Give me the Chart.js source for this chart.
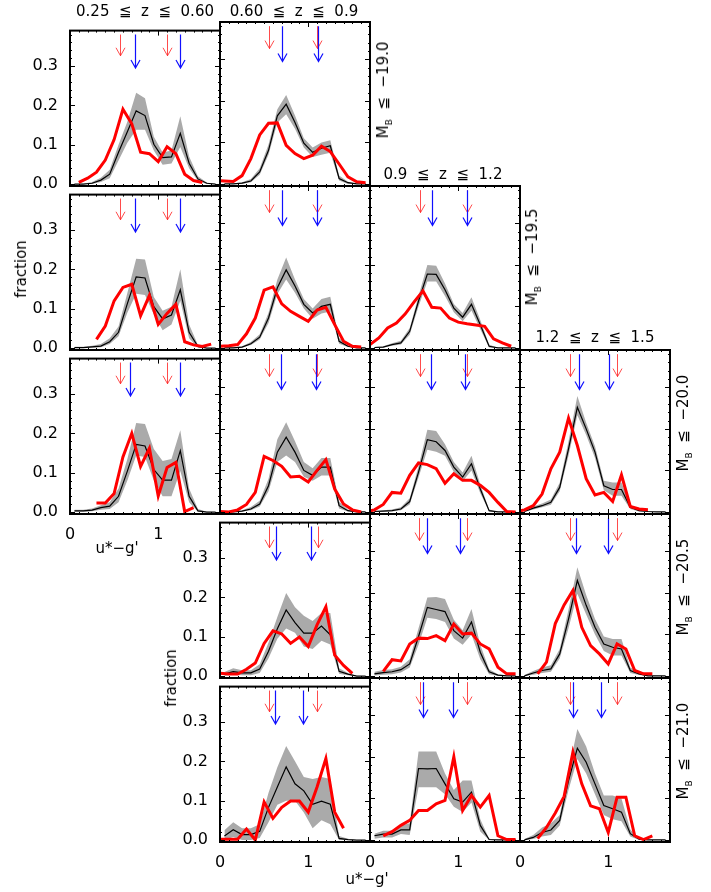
<!DOCTYPE html>
<html>
<head>
<meta charset="utf-8">
<script src="https://cdn.jsdelivr.net/npm/chart.js@4.4.0/dist/chart.umd.min.js"></script>
<style>
  body { margin: 0; background: #fff; width: 711px; height: 892px; position: relative; overflow: hidden; font-family: 'DejaVu Sans', sans-serif; }
  .pan { position: absolute; }
  .lab { position: absolute; white-space: pre; font-size: 15px; color: #000; transform: translate(-50%, -50%); }
  .rot { transform: translate(-50%, -50%) rotate(-90deg); }
  .lab sub { font-size: 9px; }
</style>
</head>
<body>
<script>
// x grids (u*-g')
const binEdge = [0, 0.1, 0.2, 0.3, 0.4, 0.5, 0.6, 0.7, 0.8, 0.9, 1.0, 1.1, 1.2, 1.3, 1.4, 1.5, 1.6];
const binMid = [0.05, 0.15, 0.25, 0.35, 0.45, 0.55, 0.65, 0.75, 0.85, 0.95, 1.05, 1.15, 1.25, 1.35, 1.45, 1.55, 1.65];
const binOff = [-0.05, 0.05, 0.15, 0.25, 0.35, 0.45, 0.55, 0.65, 0.75, 0.85, 0.95, 1.05, 1.15, 1.25, 1.35, 1.45, 1.55, 1.65];

const xTicks = [0, 1];
const yTicks = [0, 0.1, 0.2, 0.3];

// arrow heights (fraction)
const arrowTop = 0.38;
const redTip = 0.326;
const blueTip = 0.295;

// row 1 (M <= -19.0)
const red_r1c1 = [null, 0.004, 0.015, 0.03, 0.061, 0.113, 0.19, 0.153, 0.081, 0.077, 0.057, 0.095, 0.077, 0.025, 0.009, 0.004, null];
const black_r1c1 = [0, 0, 0.002, 0.01, 0.025, 0.081, 0.133, 0.186, 0.174, 0.101, 0.067, 0.069, 0.129, 0.053, 0.013, 0.002, 0];
const hi_r1c1 = [0, 0.001, 0.005, 0.016, 0.036, 0.1, 0.158, 0.232, 0.218, 0.12, 0.08, 0.085, 0.172, 0.07, 0.02, 0.004, 0];
const lo_r1c1 = [0, 0, 0, 0.005, 0.015, 0.06, 0.105, 0.138, 0.138, 0.085, 0.049, 0.052, 0.094, 0.04, 0.008, 0, 0];
const arr_r1c1 = [0.567, 0.737, 1.10, 1.25];

const red_r1c2 = [0.008, 0.007, 0.006, 0.02, 0.061, 0.118, 0.146, 0.147, 0.093, 0.073, 0.061, 0.069, 0.091, 0.078, 0.048, 0.017, 0.005, 0.003];
const black_r1c2 = [0, 0, 0.002, 0.007, 0.029, 0.081, 0.164, 0.192, 0.148, 0.098, 0.076, 0.086, 0.092, 0.013, 0.003, 0, 0];
const hi_r1c2 = [0, 0, 0.004, 0.012, 0.038, 0.095, 0.18, 0.214, 0.165, 0.11, 0.088, 0.1, 0.105, 0.02, 0.005, 0, 0];
const lo_r1c2 = [0, 0, 0, 0.004, 0.022, 0.07, 0.148, 0.168, 0.133, 0.088, 0.065, 0.07, 0.075, 0.008, 0, 0, 0];
const arr_r1c2 = [0.559, 0.706, 1.096, 1.115];

// row 2 (M <= -19.5)
const red_r2c1 = [null, null, null, 0.022, 0.056, 0.12, 0.154, 0.162, 0.082, 0.134, 0.06, 0.088, 0.111, 0.016, 0.008, 0.004, 0.01];
const black_r2c1 = [0.001, 0.001, 0.003, 0.005, 0.016, 0.04, 0.113, 0.181, 0.178, 0.105, 0.074, 0.084, 0.148, 0.04, 0.004, 0, 0];
const hi_r2c1 = [0.003, 0.003, 0.006, 0.01, 0.025, 0.055, 0.14, 0.227, 0.225, 0.13, 0.095, 0.105, 0.2, 0.06, 0.008, 0, 0];
const lo_r2c1 = [0, 0, 0.001, 0.002, 0.01, 0.03, 0.09, 0.138, 0.135, 0.085, 0.045, 0.06, 0.12, 0.025, 0.001, 0, 0];
const arr_r2c1 = [0.567, 0.737, 1.10, 1.25];

const red_r2c2 = [0.004, 0.005, 0.008, 0.034, 0.072, 0.139, 0.147, 0.106, 0.088, 0.076, 0.064, 0.091, 0.098, 0.056, 0.016, 0.004, 0.002];
const black_r2c2 = [0, 0, 0.002, 0.01, 0.026, 0.072, 0.145, 0.188, 0.149, 0.105, 0.084, 0.1, 0.105, 0.016, 0.004, 0, 0];
const hi_r2c2 = [0, 0.001, 0.004, 0.014, 0.033, 0.085, 0.165, 0.218, 0.165, 0.118, 0.095, 0.118, 0.123, 0.024, 0.006, 0, 0];
const lo_r2c2 = [0, 0, 0.001, 0.007, 0.02, 0.06, 0.13, 0.165, 0.133, 0.095, 0.07, 0.083, 0.088, 0.01, 0.002, 0, 0];
const arr_r2c2 = [0.559, 0.699, 1.096, 1.103];

const red_r2c3 = [0.008, 0.024, 0.048, 0.06, 0.082, 0.111, 0.137, 0.098, 0.096, 0.072, 0.062, 0.058, 0.055, 0.052, 0.022, 0.012, 0.004];
const black_r2c3 = [0.001, 0.002, 0.008, 0.012, 0.04, 0.113, 0.178, 0.177, 0.14, 0.096, 0.074, 0.105, 0.056, 0.004, 0, 0, 0];
const hi_r2c3 = [0.002, 0.004, 0.011, 0.017, 0.048, 0.125, 0.2, 0.198, 0.155, 0.106, 0.084, 0.122, 0.067, 0.008, 0, 0, 0];
const lo_r2c3 = [0, 0.001, 0.005, 0.008, 0.032, 0.1, 0.16, 0.16, 0.125, 0.086, 0.064, 0.09, 0.045, 0.001, 0, 0, 0];
const arr_r2c3 = [0.561, 0.705, 1.102, 1.094];

// row 3 (M <= -20.0)
const red_r3c1 = [null, null, null, 0.023, 0.023, 0.047, 0.14, 0.2, 0.116, 0.162, 0.041, 0.113, 0.126, 0.001, 0.011, null, null];
const black_r3c1 = [0.003, 0.003, 0.005, 0.011, 0.015, 0.04, 0.104, 0.172, 0.168, 0.108, 0.081, 0.081, 0.156, 0.04, 0.003, 0, 0];
const hi_r3c1 = [0.006, 0.006, 0.009, 0.017, 0.025, 0.06, 0.135, 0.226, 0.224, 0.16, 0.13, 0.135, 0.208, 0.06, 0.008, 0.001, 0];
const lo_r3c1 = [0.001, 0.001, 0.002, 0.006, 0.008, 0.025, 0.08, 0.144, 0.14, 0.08, 0.04, 0.04, 0.104, 0.025, 0.001, 0, 0];
const arr_r3c1 = [0.567, 0.68, 1.10, 1.25];

const red_r3c2 = [0.001, 0, 0.005, 0.018, 0.047, 0.134, 0.124, 0.11, 0.084, 0.086, 0.072, 0.1, 0.126, 0.055, 0.019, 0.005, 0];
const black_r3c2 = [0, 0, 0.002, 0.007, 0.019, 0.063, 0.144, 0.18, 0.144, 0.1, 0.088, 0.108, 0.108, 0.015, 0.003, 0, 0];
const hi_r3c2 = [0.001, 0.001, 0.004, 0.012, 0.027, 0.08, 0.175, 0.216, 0.17, 0.12, 0.105, 0.13, 0.13, 0.025, 0.006, 0, 0];
const lo_r3c2 = [0, 0, 0.001, 0.004, 0.013, 0.05, 0.12, 0.136, 0.12, 0.085, 0.075, 0.088, 0.088, 0.008, 0.001, 0, 0];
const arr_r3c2 = [0.559, 0.69, 1.096, 1.088];

const red_r3c3 = [0, 0.005, 0.018, 0.047, 0.045, 0.088, 0.118, 0.114, 0.104, 0.069, 0.092, 0.076, 0.076, 0.064, 0.047, 0.023, 0.001, 0];
const black_r3c3 = [0.001, 0.002, 0.003, 0.007, 0.025, 0.096, 0.174, 0.169, 0.148, 0.108, 0.084, 0.116, 0.055, 0.003, 0, 0, 0];
const hi_r3c3 = [0.002, 0.004, 0.006, 0.011, 0.033, 0.11, 0.198, 0.195, 0.163, 0.12, 0.095, 0.135, 0.066, 0.006, 0, 0, 0];
const lo_r3c3 = [0, 0.001, 0.001, 0.004, 0.018, 0.083, 0.15, 0.145, 0.135, 0.096, 0.074, 0.1, 0.045, 0.001, 0, 0, 0];
const arr_r3c3 = [0.561, 0.686, 1.102, 1.071];

const red_r3c4 = [0, 0.005, 0.015, 0.043, 0.104, 0.144, 0.226, 0.16, 0.08, 0.041, 0.047, 0.025, 0.089, 0.013, 0.007, 0.005, null, null];
const black_r3c4 = [0.001, 0.009, 0.015, 0.023, 0.059, 0.152, 0.252, 0.2, 0.144, 0.063, 0.054, 0.054, 0.011, 0.003, 0.001, 0, 0];
const hi_r3c4 = [0.002, 0.013, 0.02, 0.03, 0.07, 0.17, 0.279, 0.215, 0.158, 0.075, 0.071, 0.071, 0.016, 0.005, 0.002, 0, 0];
const lo_r3c4 = [0, 0.006, 0.011, 0.017, 0.05, 0.135, 0.233, 0.185, 0.13, 0.052, 0.039, 0.039, 0.007, 0.001, 0, 0, 0];
const arr_r3c4 = [0.561, 0.667, 1.102, 1.007];

// row 4 (M <= -20.5)
const red_r4c2 = [0.007, 0.005, 0.005, 0.017, 0.033, 0.083, 0.115, 0.107, 0.083, 0.099, 0.075, 0.13, 0.176, 0.053, 0.027, 0.007, null];
const black_r4c2 = [0.005, 0.011, 0.008, 0.008, 0.018, 0.063, 0.12, 0.168, 0.136, 0.109, 0.109, 0.127, 0.105, 0.012, 0.005, 0, 0];
const hi_r4c2 = [0.01, 0.02, 0.015, 0.015, 0.03, 0.085, 0.15, 0.211, 0.175, 0.153, 0.14, 0.16, 0.16, 0.02, 0.008, 0, 0];
const lo_r4c2 = [0, 0.004, 0.002, 0.002, 0.008, 0.045, 0.095, 0.121, 0.11, 0.075, 0.069, 0.09, 0.08, 0.006, 0.002, 0, 0];
const arr_r4c2 = [0.555, 0.635, 1.107, 1.032];

const red_r4c3 = [null, null, 0.011, 0.039, 0.036, 0.077, 0.091, 0.09, 0.097, 0.085, 0.125, 0.101, 0.103, 0.077, 0.065, 0.021, 0.005, 0.005];
const black_r4c3 = [0.005, 0.008, 0.01, 0.015, 0.029, 0.095, 0.165, 0.16, 0.155, 0.109, 0.091, 0.13, 0.057, 0.01, 0.002, 0, 0];
const hi_r4c3 = [0.01, 0.014, 0.016, 0.022, 0.04, 0.115, 0.189, 0.19, 0.185, 0.135, 0.11, 0.161, 0.075, 0.016, 0.004, 0, 0];
const lo_r4c3 = [0.001, 0.003, 0.004, 0.008, 0.02, 0.075, 0.14, 0.137, 0.13, 0.09, 0.075, 0.1, 0.04, 0.004, 0, 0, 0];
const arr_r4c3 = [0.553, 0.648, 1.102, 1.018];

const red_r4c4 = [null, null, 0.005, 0.033, 0.126, 0.171, 0.206, 0.117, 0.073, 0.053, 0.029, 0.077, 0.065, 0.013, 0.005, 0.005, null];
const black_r4c4 = [0, 0.007, 0.013, 0.017, 0.053, 0.137, 0.23, 0.17, 0.117, 0.077, 0.069, 0.065, 0.013, 0.005, 0, 0, 0];
const hi_r4c4 = [0.002, 0.012, 0.02, 0.026, 0.065, 0.16, 0.262, 0.195, 0.137, 0.095, 0.089, 0.089, 0.02, 0.008, 0.001, 0, 0];
const lo_r4c4 = [0, 0.003, 0.007, 0.01, 0.042, 0.115, 0.198, 0.148, 0.1, 0.06, 0.049, 0.049, 0.007, 0.002, 0, 0, 0];
const arr_r4c4 = [0.565, 0.64, 1.102, 0.995];

// row 5 (M <= -21.0)
const red_r5c2 = [0.002, 0.002, 0.002, 0.028, 0, 0.097, 0.055, 0.083, 0.099, 0.099, 0.071, 0.135, 0.207, 0.071, 0.03, null, null];
const black_r5c2 = [0.01, 0.026, 0.014, 0.014, 0.022, 0.083, 0.135, 0.186, 0.143, 0.125, 0.091, 0.099, 0.091, 0.004, 0.001, 0, 0];
const hi_r5c2 = [0.025, 0.045, 0.03, 0.03, 0.04, 0.12, 0.185, 0.239, 0.2, 0.16, 0.155, 0.16, 0.155, 0.01, 0.003, 0, 0];
const lo_r5c2 = [0, 0.008, 0, 0, 0.005, 0.045, 0.09, 0.1, 0.1, 0.07, 0.03, 0.05, 0.04, 0, 0, 0, 0];
const arr_r5c2 = [0.555, 0.624, 1.096, 0.937];

const red_r5c3 = [null, null, 0.01, 0.02, 0.035, 0.047, 0.071, 0.071, 0.087, 0.095, 0.2, 0.071, 0.107, 0.079, 0.107, 0.01, 0.001, 0.001];
const black_r5c3 = [0.01, 0.014, 0.014, 0.024, 0.024, 0.172, 0.171, 0.172, 0.135, 0.099, 0.091, 0.115, 0.035, 0.001, 0, 0, 0];
const hi_r5c3 = [0.015, 0.022, 0.022, 0.035, 0.04, 0.213, 0.213, 0.213, 0.16, 0.12, 0.143, 0.143, 0.05, 0.003, 0, 0, 0];
const lo_r5c3 = [0.003, 0.006, 0.006, 0.014, 0.012, 0.127, 0.127, 0.127, 0.11, 0.08, 0.067, 0.09, 0.02, 0, 0, 0, 0];
const arr_r5c3 = [0.566, 0.60, 1.094, 0.944];

const red_r5c4 = [null, null, 0.003, 0.03, 0.065, 0.105, 0.212, 0.135, 0.082, 0.075, 0.018, 0.103, 0.103, 0.01, 0.001, 0.01, null];
const black_r5c4 = [0, 0.006, 0.018, 0.024, 0.047, 0.143, 0.221, 0.187, 0.135, 0.083, 0.075, 0.067, 0.015, 0.002, 0, 0, 0];
const hi_r5c4 = [0.002, 0.012, 0.03, 0.04, 0.06, 0.165, 0.267, 0.225, 0.16, 0.107, 0.107, 0.1, 0.025, 0.004, 0, 0, 0];
const lo_r5c4 = [0, 0.002, 0.008, 0.012, 0.035, 0.12, 0.195, 0.16, 0.11, 0.06, 0.05, 0.045, 0.008, 0, 0, 0, 0];
const arr_r5c4 = [0.565, 0.603, 1.102, 0.92];

// layout
const colLeft = [70, 220, 370, 520];
const rowTop = [22, 186, 350, 514, 678];
const PW = 150, PH = 164, PADL = 60, PADT = 5, PADR = 5, PADB = 30;

const panels = [
  { r: 0, c: 0, red: red_r1c1, rx: binEdge, black: black_r1c1, hi: hi_r1c1, lo: lo_r1c1, arr: arr_r1c1, yl: true, xl: false },
  { r: 0, c: 1, red: red_r1c2, rx: binOff, black: black_r1c2, hi: hi_r1c2, lo: lo_r1c2, arr: arr_r1c2, yl: false, xl: false },
  { r: 1, c: 0, red: red_r2c1, rx: binEdge, black: black_r2c1, hi: hi_r2c1, lo: lo_r2c1, arr: arr_r2c1, yl: true, xl: false },
  { r: 1, c: 1, red: red_r2c2, rx: binEdge, black: black_r2c2, hi: hi_r2c2, lo: lo_r2c2, arr: arr_r2c2, yl: false, xl: false },
  { r: 1, c: 2, red: red_r2c3, rx: binEdge, black: black_r2c3, hi: hi_r2c3, lo: lo_r2c3, arr: arr_r2c3, yl: false, xl: false },
  { r: 2, c: 0, red: red_r3c1, rx: binEdge, black: black_r3c1, hi: hi_r3c1, lo: lo_r3c1, arr: arr_r3c1, yl: true, xl: true },
  { r: 2, c: 1, red: red_r3c2, rx: binEdge, black: black_r3c2, hi: hi_r3c2, lo: lo_r3c2, arr: arr_r3c2, yl: false, xl: false },
  { r: 2, c: 2, red: red_r3c3, rx: binOff, black: black_r3c3, hi: hi_r3c3, lo: lo_r3c3, arr: arr_r3c3, yl: false, xl: false },
  { r: 2, c: 3, red: red_r3c4, rx: binOff, black: black_r3c4, hi: hi_r3c4, lo: lo_r3c4, arr: arr_r3c4, yl: false, xl: false },
  { r: 3, c: 1, red: red_r4c2, rx: binEdge, black: black_r4c2, hi: hi_r4c2, lo: lo_r4c2, arr: arr_r4c2, yl: true, xl: false },
  { r: 3, c: 2, red: red_r4c3, rx: binOff, black: black_r4c3, hi: hi_r4c3, lo: lo_r4c3, arr: arr_r4c3, yl: false, xl: false },
  { r: 3, c: 3, red: red_r4c4, rx: binEdge, black: black_r4c4, hi: hi_r4c4, lo: lo_r4c4, arr: arr_r4c4, yl: false, xl: false },
  { r: 4, c: 1, red: red_r5c2, rx: binEdge, black: black_r5c2, hi: hi_r5c2, lo: lo_r5c2, arr: arr_r5c2, yl: true, xl: true },
  { r: 4, c: 2, red: red_r5c3, rx: binOff, black: black_r5c3, hi: hi_r5c3, lo: lo_r5c3, arr: arr_r5c3, yl: false, xl: true },
  { r: 4, c: 3, red: red_r5c4, rx: binEdge, black: black_r5c4, hi: hi_r5c4, lo: lo_r5c4, arr: arr_r5c4, yl: false, xl: true }
];

Chart.defaults.font.family = "'DejaVu Sans', sans-serif";
Chart.defaults.font.size = 16;
Chart.defaults.color = '#000';

function pts(xs, ys) {
  return xs.map((x, i) => ({ x: x, y: ys[i] }));
}

//Plugin for the frame and inward ticks
const framePlugin = {
  id: 'frame',
  afterDraw(chart) {
    const { ctx, chartArea: a, scales: { x, y } } = chart;
    ctx.save();
    ctx.strokeStyle = '#000';
    ctx.lineWidth = 1;
    ctx.beginPath();
    for (let i = 0; i <= 17; i++) {
      const v = i / 10;
      const px = Math.round(x.getPixelForValue(v)) + 0.5;
      const len = (i % 10 === 0) ? 5 : 2;
      ctx.moveTo(px, a.bottom); ctx.lineTo(px, a.bottom - len);
      ctx.moveTo(px, a.top); ctx.lineTo(px, a.top + len);
    }
    for (let i = 0; i <= 19; i++) {
      const v = i / 50;
      const py = Math.round(y.getPixelForValue(v)) + 0.5;
      const len = (i % 5 === 0) ? 5 : 2;
      ctx.moveTo(a.left, py); ctx.lineTo(a.left + len, py);
      ctx.moveTo(a.right, py); ctx.lineTo(a.right - len, py);
    }
    ctx.stroke();
    ctx.lineWidth = 2;
    ctx.strokeRect(a.left, a.top, a.right - a.left, a.bottom - a.top);
    ctx.restore();
  }
};

//Plugin for the red and blue arrows
const arrowPlugin = {
  id: 'arrows',
  afterDatasetsDraw(chart, args, opts) {
    const { ctx, scales: { x, y } } = chart;
    const list = opts.values || [];
    const draw = (v, tip, color, lw) => {
      const px = Math.round(x.getPixelForValue(v)) + 0.5;
      const top = y.getPixelForValue(arrowTop);
      const bot = y.getPixelForValue(tip);
      ctx.strokeStyle = color;
      ctx.lineWidth = lw;
      ctx.beginPath();
      ctx.moveTo(px, top); ctx.lineTo(px, bot);
      ctx.moveTo(px - 4.5, bot - 8); ctx.lineTo(px, bot); ctx.lineTo(px + 4.5, bot - 8);
      ctx.stroke();
    };
    ctx.save();
    draw(list[0], redTip, 'rgba(255,30,30,0.8)', 1);
    draw(list[2], redTip, 'rgba(255,30,30,0.8)', 1);
    draw(list[1], blueTip, '#1010ff', 1.2);
    draw(list[3], blueTip, '#1010ff', 1.2);
    ctx.restore();
  }
};

function makePanel(p) {
  const wrap = document.createElement('div');
  wrap.className = 'pan';
  wrap.style.left = (colLeft[p.c] - PADL) + 'px';
  wrap.style.top = (rowTop[p.r] - PADT) + 'px';
  const cv = document.createElement('canvas');
  cv.width = PADL + PW + PADR;
  cv.height = PADT + PH + PADB;
  cv.style.width = cv.width + 'px';
  cv.style.height = cv.height + 'px';
  wrap.appendChild(cv);
  document.body.appendChild(wrap);

  new Chart(cv, {
    type: 'line',
    data: {
      datasets: [
        { data: pts(p.rx, p.red), borderColor: '#ff0000', borderWidth: 3, pointRadius: 0, fill: false, spanGaps: false },
        { data: pts(binMid, p.black), borderColor: '#000', borderWidth: 1.2, pointRadius: 0, fill: false },
        { data: pts(binMid, p.hi), borderColor: 'rgba(0,0,0,0)', borderWidth: 0, pointRadius: 0, backgroundColor: '#aaaaaa', fill: '+1' },
        { data: pts(binMid, p.lo), borderColor: 'rgba(0,0,0,0)', borderWidth: 0, pointRadius: 0, fill: false }
      ]
    },
    options: {
      responsive: false,
      animation: false,
      events: [],
      layout: { padding: { top: PADT, right: PADR, left: 0, bottom: 0 } },
      elements: { line: { tension: 0 } },
      scales: {
        x: {
          type: 'linear', min: 0, max: 1.7,
          grid: { display: false }, border: { display: false },
          afterBuildTicks: s => { s.ticks = xTicks.map(v => ({ value: v })); },
          afterFit: s => { s.height = PADB; },
          ticks: { display: p.xl, padding: 3, maxRotation: 0, autoSkip: false, callback: v => String(v) }
        },
        y: {
          min: -0.005, max: 0.39,
          grid: { display: false }, border: { display: false },
          afterBuildTicks: s => { s.ticks = yTicks.map(v => ({ value: v })); },
          afterFit: s => { s.width = PADL; },
          ticks: { display: p.yl, padding: 4, autoSkip: false, callback: v => v.toFixed(1) }
        }
      },
      plugins: {
        legend: { display: false },
        tooltip: { enabled: false },
        arrows: { values: p.arr }
      }
    },
    plugins: [arrowPlugin, framePlugin]
  });
}

panels.forEach(makePanel);

// text labels
function label(html, cx, cy, rotate) {
  const d = document.createElement('div');
  d.className = 'lab' + (rotate ? ' rot' : '');
  d.innerHTML = html;
  d.style.left = cx + 'px';
  d.style.top = cy + 'px';
  document.body.appendChild(d);
}

label('0.25  ≦  z  ≦  0.60', 145, 11);
label('0.60  ≦  z  ≦  0.9', 294, 11);
label('0.9  ≦  z  ≦  1.2', 443, 174);
label('1.2  ≦  z  ≦  1.5', 595, 337);

label('M<sub>B</sub>  ≦  −19.0', 384, 90, true);
label('M<sub>B</sub>  ≦  −19.5', 533, 257, true);
label('M<sub>B</sub>  ≦  −20.0', 684, 423, true);
label('M<sub>B</sub>  ≦  −20.5', 684, 587, true);
label('M<sub>B</sub>  ≦  −21.0', 684, 751, true);

label('fraction', 21, 269, true);
label('fraction', 171, 678, true);

label("u*−g'", 117, 548);
label("u*−g'", 367, 879);
</script>
</body>
</html>
